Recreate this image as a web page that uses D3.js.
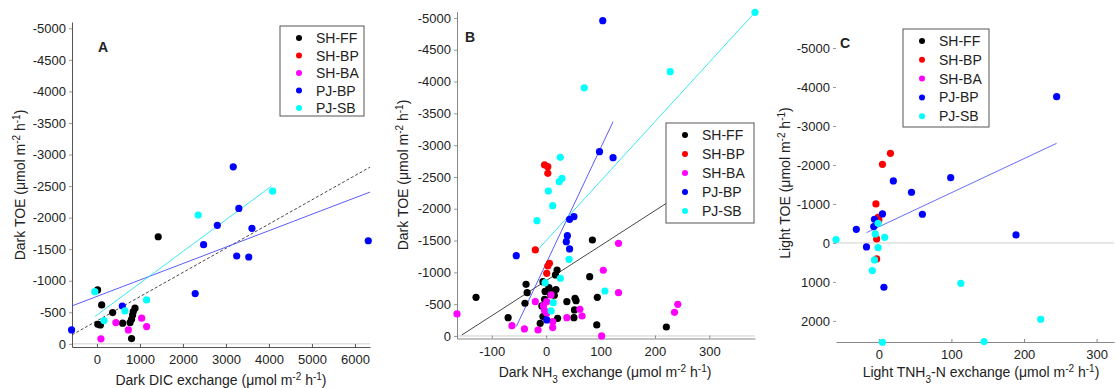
<!DOCTYPE html>
<html>
<head>
<meta charset="utf-8">
<script src="https://cdn.jsdelivr.net/npm/d3@7"></script>
<style>
  body { margin: 0; background: #fff; }
  svg text { font-family: "Liberation Sans", Arial, sans-serif; fill: #222; }
</style>
</head>
<body>
<div id="chart"></div>
<script>
// series names + colours (same for all panels)
var seriesNames = ["SH-FF", "SH-BP", "SH-BA", "PJ-BP", "PJ-SB"]
var seriesColors = ["#000000", "#ff0000", "#ff00ff", "#0000ff", "#00ffff"]

// panel A : dark DIC exchange vs dark TOE
var aFF = [[15,-854],[110,-617],[365,-495],[770,-337],[805,-390],[830,-458],[845,-511],[885,-565],[597,-327],[20,-310],[80,-300],[805,-84],[1425,-1697]]
var aBP = []
var aBA = [[440,-337],[730,-221],[1040,-406],[1155,-274],[93,-79]]
var aPJBP = [[590,-600],[-590,-221],[3300,-2146],[2800,-1878],[3605,-1830],[2480,-1571],[3250,-1392],[3530,-1376],[2285,-796],[6310,-1634],[3170,-2805]]
var aPJSB = [[-50,-827],[650,-522],[163,-369],[1155,-696],[4085,-2420],[2355,-2040]]
var aFitAll = [[-580,-142],[6350,-2800]]
var aFitBP = [[-580,-601],[6350,-2405]]
var aFitSB = [[-50,-432],[4060,-2500]]
var aXTicks = [0,1000,2000,3000,4000,5000,6000]
var aYTicks = [0,-500,-1000,-1500,-2000,-2500,-3000,-3500,-4000,-4500,-5000]

// panel B : dark NH3 exchange vs dark TOE
var bFF = [[20,-1037],[17,-959],[-37,-812],[-6,-853],[-35,-681],[-129,-608],[-39,-514],[-3,-577],[-8,-472],[38,-539],[-70,-288],[-6,-304],[-11,-199],[21,-278],[85,-1509],[80,-932],[94,-608],[53,-592],[55,-555],[52,-409],[51,-288],[93,-173],[221,-141],[5,-760],[12,-700],[18,-730],[8,-650],[15,-640],[-2,-700]]
var bBP = [[-3,-2689],[3,-2661],[3,-2557],[-20,-1352],[6,-1143],[3,-1100],[1,-985]]
var bBA = [[-20,-539],[9,-645],[1,-539],[-5,-476],[-164,-346],[1,-357],[12,-225],[-63,-162],[-40,-110],[-15,-94],[12,-131],[38,-288],[133,-1457],[105,-1033],[133,-681],[62,-420],[66,-314],[102,0],[236,-372],[242,-498],[-3,-400]]
var bPJBP = [[-55,-1262],[1,-252],[104,-4957],[98,-2897],[123,-2803],[43,-1834],[51,-1875],[39,-1577],[37,-1482],[43,-1368]]
var bPJSB = [[26,-2809],[29,-2479],[24,-2426],[4,-2279],[12,-2048],[-17,-1812],[42,-1205],[26,-907],[-2,-838],[13,-524],[9,-393],[228,-4155],[70,-3903],[384,-5089],[108,-707]]
var bFitFF = [[-155,-16],[221,-2086]]
var bFitBP = [[-55,-147],[123,-3369]]
var bFitSB = [[-17,-1341],[384,-5089]]
var bXTicks = [-100,0,100,200,300]
var bYTicks = aYTicks

// panel C : light TNH3-N exchange vs light TOE
var cFF = []
var cBP = [[16,-2300],[5,-2017],[-4,-1000],[-1,-658],[0,-590],[-3,-103],[-3,410]]
var cBA = []
var cPJBP = [[20,-1590],[45,-1300],[5,-744],[-6,-607],[-7,-419],[-31,-350],[-17,103],[7,1136],[60,-736],[245,-3751],[99,-1674],[189,-205]]
var cPJSB = [[-1,-504],[-5,-231],[8,-145],[-59,-86],[-1,120],[-6,436],[-9,709],[5,2546],[113,1034],[223,1957],[145,2530]]
var cFitBP = [[-17,-265],[245,-2556]]
var cXTicks = [0,100,200,300]
var cYTicks = [2000,1000,0,-1000,-2000,-3000,-4000,-5000]

var width = 1116, height = 388

var svg = d3.select("#chart").append("svg")
    .attr("width", width).attr("height", height)

function unitLabel(txt, prefix, sub, suffix) {
    // label like "Dark NH3 exchange (umol m-2 h-1)"
    txt.append("tspan").text(prefix)
    if (sub) {
        txt.append("tspan").attr("baseline-shift", "sub").style("font-size", "10px").text(sub)
        txt.append("tspan").text(suffix)
    }
    txt.append("tspan").text(" (\u03bcmol m")
    txt.append("tspan").attr("baseline-shift", "super").style("font-size", "10px").text("-2")
    txt.append("tspan").text(" h")
    txt.append("tspan").attr("baseline-shift", "super").style("font-size", "10px").text("-1")
    txt.append("tspan").text(")")
}

function drawPanel(p) {
    var g = svg.append("g")
    var x = d3.scaleLinear().domain(p.xDomain).range(p.xRange)
    var y = d3.scaleLinear().domain(p.yDomain).range(p.yRange)

    // zero line
    g.append("line")
        .attr("x1", p.xRange[0]).attr("x2", p.xRange[1])
        .attr("y1", y(0)).attr("y2", y(0))
        .style("stroke", "#d0d0d0").style("stroke-width", 1)

    var xAxis = g.append("g")
        .attr("transform", "translate(0," + p.yRange[0] + ")")
        .call(d3.axisBottom(x).tickValues(p.xTicks).tickSizeInner(-3).tickSizeOuter(0).tickPadding(8).tickFormat(d => d))
    xAxis.select(".domain").style("stroke", p.axisColor).style("stroke-width", 1.2)
    xAxis.selectAll(".tick line").style("stroke", p.axisColor)
    xAxis.selectAll("text").style("font-size", "13px").style("fill", "#222")

    var yAxis = g.append("g")
        .attr("transform", "translate(" + p.xRange[0] + ",0)")
        .call(d3.axisLeft(y).tickValues(p.yTicks).tickSizeInner(3).tickSizeOuter(0).tickPadding(3).tickFormat(d => d))
    yAxis.select(".domain").style("stroke", p.leftAxis ? p.axisColor : "none")
    yAxis.selectAll(".tick line").style("stroke", "#999")
    yAxis.selectAll("text").style("font-size", "13px").style("fill", "#222")

    // fit lines
    p.fits.forEach(function(f) {
        g.append("line")
            .attr("x1", x(f.pts[0][0])).attr("y1", y(f.pts[0][1]))
            .attr("x2", x(f.pts[1][0])).attr("y2", y(f.pts[1][1]))
            .style("stroke", f.color).style("stroke-width", 0.9)
            .style("stroke-dasharray", f.dash || null)
    })

    // points
    p.series.forEach(function(s, i) {
        g.selectAll(null).data(s).enter().append("circle")
            .attr("cx", d => x(d[0])).attr("cy", d => y(d[1]))
            .attr("r", 3.6)
            .style("fill", seriesColors[i])
    })

    // legend
    var L = p.legend
    var lg = g.append("g")
    lg.append("rect").attr("x", L.x).attr("y", L.y).attr("width", L.w).attr("height", L.h)
        .style("fill", "white").style("stroke", "#555").style("stroke-width", 1)
    seriesNames.forEach(function(n, i) {
        var yy = L.y + 12 + i * L.step
        lg.append("circle").attr("cx", L.x + 19).attr("cy", yy).attr("r", 3)
            .style("fill", seriesColors[i])
        lg.append("text").attr("x", L.x + 36).attr("y", yy + 5).style("font-size", "14px").text(n)
    })

    g.append("text").attr("x", p.letter[0]).attr("y", p.letter[1])
        .style("font-size", "14px").style("font-weight", "bold").text(p.letter[2])

    var xl = g.append("text").attr("x", p.xLabelPos[0]).attr("y", p.xLabelPos[1])
        .attr("text-anchor", "middle").style("font-size", "14px")
    unitLabel(xl, p.xLabel[0], p.xLabel[1], p.xLabel[2])

    var yl = g.append("text")
        .attr("transform", "translate(" + p.yLabelPos[0] + "," + p.yLabelPos[1] + ") rotate(-90)")
        .attr("text-anchor", "middle").style("font-size", "14px")
    unitLabel(yl, p.yLabel)
}

drawPanel({
    xDomain: [-580, 6350], xRange: [72, 370],
    yDomain: [50, -5100], yRange: [347, 22],
    xTicks: aXTicks, yTicks: aYTicks,
    axisColor: "#555", leftAxis: true,
    series: [aFF, aBP, aBA, aPJBP, aPJSB],
    fits: [{pts: aFitAll, color: "#333", dash: "3,2"}, {pts: aFitBP, color: "#4a4aff"}, {pts: aFitSB, color: "#22e8f0"}],
    legend: {x: 280, y: 26, w: 84, h: 90, step: 17.5},
    letter: [98, 52, "A"],
    xLabel: ["Dark DIC exchange"], xLabelPos: [221, 385],
    yLabel: "Dark TOE", yLabelPos: [25, 185]
})

drawPanel({
    xDomain: [-164, 384], xRange: [457, 755],
    yDomain: [40, -5100], yRange: [338.5, 11.6],
    xTicks: bXTicks, yTicks: bYTicks,
    axisColor: "#888", leftAxis: true,
    series: [bFF, bBP, bBA, bPJBP, bPJSB],
    fits: [{pts: bFitFF, color: "#333"}, {pts: bFitBP, color: "#4a4aff"}, {pts: bFitSB, color: "#22e8f0"}],
    legend: {x: 666, y: 123, w: 88, h: 100, step: 19},
    letter: [465, 42, "B"],
    xLabel: ["Dark NH", "3", " exchange"], xLabelPos: [605, 377],
    yLabel: "Dark TOE", yLabelPos: [408, 175]
})

drawPanel({
    xDomain: [-59, 324], xRange: [836, 1114],
    yDomain: [2540, -5700], yRange: [342, 20.7],
    xTicks: cXTicks, yTicks: cYTicks,
    axisColor: "#888", leftAxis: false,
    series: [cFF, cBP, cBA, cPJBP, cPJSB],
    fits: [{pts: cFitBP, color: "#5a5aff"}],
    legend: {x: 903, y: 29, w: 86, h: 98, step: 18.8},
    letter: [840, 48, "C"],
    xLabel: ["Light TNH", "3", "-N exchange"], xLabelPos: [981, 377],
    yLabel: "Light TOE", yLabelPos: [790, 183]
})
</script>
</body>
</html>
